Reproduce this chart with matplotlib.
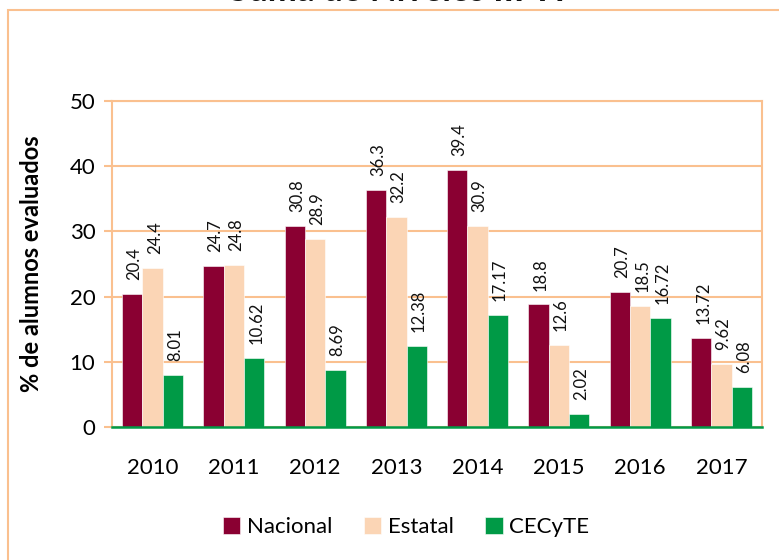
import numpy as np
import matplotlib.pyplot as plt
from matplotlib.patches import Rectangle

# data
years = ["2010", "2011", "2012", "2013", "2014", "2015", "2016", "2017"]
nacional = [20.4, 24.7, 30.8, 36.3, 39.4, 18.8, 20.7, 13.72]
estatal = [24.4, 24.8, 28.9, 32.2, 30.9, 12.6, 18.5, 9.62]
cecyte = [8.01, 10.62, 8.69, 12.38, 17.17, 2.02, 16.72, 6.08]
nacional_lbl = ["20.4", "24.7", "30.8", "36.3", "39.4", "18.8", "20.7", "13.72"]
estatal_lbl = ["24.4", "24.8", "28.9", "32.2", "30.9", "12.6", "18.5", "9.62"]
cecyte_lbl = ["8.01", "10.62", "8.69", "12.38", "17.17", "2.02", "16.72", "6.08"]

RED = "#8A0032"
PEACH = "#FBD5B5"
GREEN = "#009A46"
ORANGE_LINE = "#FAC08F"

plt.rcParams["font.family"] = ["Lato", "DejaVu Sans"]

fig = plt.figure(figsize=(7.79, 5.6), dpi=100)
ax = fig.add_axes([112 / 779, 1 - 427 / 560, 650 / 779, 326 / 560])

# chart-area border (runs off the right and bottom edges)
fig.patches.append(Rectangle((8 / 779, -0.1), 1.2, 1 - 10 / 560 + 0.1,
                             transform=fig.transFigure, fill=False,
                             edgecolor=ORANGE_LINE, linewidth=1.5))

# title sits mostly above the top edge, as in the source image
fig.text(400 / 779, 1 - 1 / 560, "Suma de Niveles III-IV", ha="center",
         va="baseline", fontsize=25, fontweight="bold", color="#111111")

x = np.arange(len(years))
w = 0.25
series = [(nacional, nacional_lbl, RED, "Nacional", -w),
          (estatal, estatal_lbl, PEACH, "Estatal", 0.0),
          (cecyte, cecyte_lbl, GREEN, "CECyTE", w)]

for vals, lbls, col, name, off in series:
    bars = ax.bar(x + off, vals, width=w, color=col, label=name,
                  edgecolor="white", linewidth=0.4, zorder=3)
    for b, v, t in zip(bars, vals, lbls):
        ax.annotate(t, (b.get_x() + b.get_width() / 2, v),
                    xytext=(1.5, 10), textcoords="offset points",
                    rotation=90, ha="center", va="bottom", fontsize=12,
                    color="#111111")

ax.set_xlim(-0.5, len(years) - 0.5)
ax.set_ylim(0, 50)
ax.set_yticks([0, 10, 20, 30, 40, 50])
ax.set_xticks(x)
ax.set_xticklabels(years)
ax.tick_params(axis="y", length=6, width=1.5, color=ORANGE_LINE, labelsize=16,
               pad=6)
ax.tick_params(axis="x", length=0, labelsize=16, pad=22)
ax.grid(axis="y", color=ORANGE_LINE, linewidth=1.5, zorder=0)
ax.set_axisbelow(True)
for s in ["left", "right", "top"]:
    ax.spines[s].set_color(ORANGE_LINE)
    ax.spines[s].set_linewidth(1.5)
ax.spines["bottom"].set_color(GREEN)
ax.spines["bottom"].set_linewidth(1.8)
ax.spines["bottom"].set_zorder(4)

ax.set_ylabel("% de alumnos evaluados", fontsize=17, fontweight="bold")
ax.yaxis.set_label_coords(-0.106, 0.5)

fig.legend(loc="center", bbox_to_anchor=(406 / 779, 1 - 527 / 560), ncol=3,
           frameon=False, fontsize=16, handlelength=0.8, handleheight=0.8,
           handletextpad=0.3, columnspacing=1.4)

fig.savefig("out.png", dpi=100)
